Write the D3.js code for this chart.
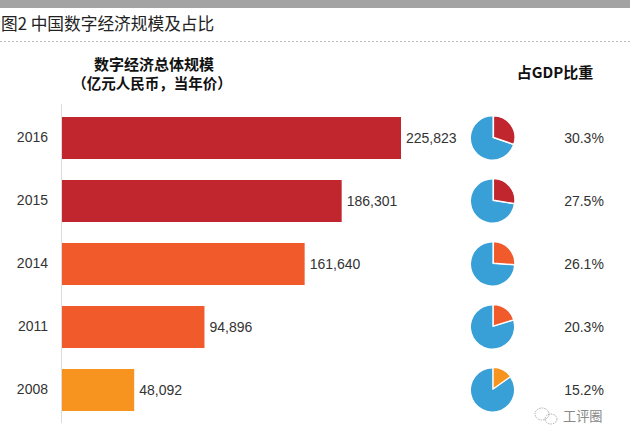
<!DOCTYPE html>
<html><head><meta charset="utf-8">
<script src="https://cdn.jsdelivr.net/npm/d3@7"></script>
<style>
html,body{margin:0;padding:0;background:#fff;}
svg{display:block;}
</style></head>
<body>
<script>
const years = ["2016","2015","2014","2011","2008"];
const values = [225823,186301,161640,94896,48092];
const shares = [30.3,27.5,26.1,20.3,15.2];
const barColors = ["#c1262e","#c1262e","#f15a2a","#f15a2a","#f7941f"];
const pieRest = "#38a0d6";
const title = "图2 中国数字经济规模及占比";
const subtitle1 = "数字经济总体规模";
const subtitle2 = "（亿元人民币，当年价）";
const shareHeader = "占GDP比重";
const watermark = "工评圈";

const W = 630, H = 441;
const cjk = "'Noto Sans CJK SC','Noto Sans',sans-serif";
const latin = "'Liberation Sans',Arial,sans-serif";

const svg = d3.select("body").append("svg").attr("width", W).attr("height", H);

// top gray band
svg.append("rect").attr("x",0).attr("y",0).attr("width",W).attr("height",8).attr("fill","#a3a3a3");
svg.append("text").attr("x",1).attr("y",30).attr("font-family",cjk).attr("font-size",16.7)
  .attr("fill","#222").text(title);
svg.append("line").attr("x1",0).attr("x2",W).attr("y1",41.5).attr("y2",41.5)
  .attr("stroke","#bdbdbd").attr("stroke-dasharray","2,2").attr("stroke-width",1);

svg.append("text").attr("x",154).attr("y",69.5).attr("text-anchor","middle")
  .attr("font-family",cjk).attr("font-weight","bold").attr("font-size",15).attr("fill","#111").text(subtitle1);
svg.append("text").attr("x",152).attr("y",88.5).attr("text-anchor","middle")
  .attr("font-family",cjk).attr("font-weight","bold").attr("font-size",14.5).attr("fill","#111").text(subtitle2);
svg.append("text").attr("x",555).attr("y",78).attr("text-anchor","middle")
  .attr("font-family",cjk).attr("font-weight","bold").attr("font-size",15).attr("fill","#111").text(shareHeader);

const x = d3.scaleLinear().domain([0, 225823]).range([62, 401]);
const y = d3.scaleBand().domain(years).range([106.5, 421.5]).paddingInner(1/3).paddingOuter(1/6);

// vertical axis line
svg.append("line").attr("x1",61.5).attr("x2",61.5).attr("y1",104).attr("y2",423)
  .attr("stroke","#dcdcdc").attr("stroke-width",1);

const data = years.map((yr,i)=>({year:yr, value:values[i], share:shares[i], color:barColors[i]}));

// year labels via axis
const yAxis = d3.axisLeft(y).tickSize(0).tickPadding(0);
const ag = svg.append("g").attr("transform","translate(48,0)").call(yAxis);
ag.select(".domain").remove();
ag.selectAll("text").attr("font-family",latin).attr("font-size",14).attr("fill","#333");

svg.selectAll("rect.bar").data(data).join("rect").attr("class","bar")
  .attr("x",x(0)).attr("y",d=>y(d.year)).attr("width",d=>x(d.value)-x(0))
  .attr("height",y.bandwidth()).attr("fill",d=>d.color);

const fmt = d3.format(",");
svg.selectAll("text.val").data(data).join("text").attr("class","val")
  .attr("x",d=>x(d.value)+5).attr("y",d=>y(d.year)+y.bandwidth()/2).attr("dy","0.36em")
  .attr("font-family",latin).attr("font-size",14).attr("fill","#333").text(d=>fmt(d.value));

// pies
const pie = d3.pie().sort(null).value(d=>d);
const arc = d3.arc().innerRadius(0).outerRadius(21.5);
const pg = svg.selectAll("g.pie").data(data).join("g").attr("class","pie")
  .attr("transform",d=>`translate(492.5,${y(d.year)+y.bandwidth()/2})`);
pg.each(function(d){
  const g = d3.select(this);
  const arcs = pie([d.share, 100-d.share]);
  g.append("path").attr("d",arc(arcs[1])).attr("fill",pieRest);
  const c = arc.centroid(arcs[0]);
  const len = Math.hypot(c[0],c[1]);
  const off = 1.2;
  g.append("path").attr("d",arc(arcs[0]))
    .attr("transform",`translate(${c[0]/len*off},${c[1]/len*off})`)
    .attr("fill",d.color).attr("stroke","#fff").attr("stroke-width",1.3).attr("stroke-linejoin","round");
});

svg.selectAll("text.pct").data(data).join("text").attr("class","pct")
  .attr("x",584).attr("y",d=>y(d.year)+y.bandwidth()/2).attr("dy","0.36em").attr("text-anchor","middle")
  .attr("font-family",latin).attr("font-size",14).attr("fill","#333").text(d=>d.share.toFixed(1)+"%");

// watermark
const wm = svg.append("g").attr("transform","translate(545,416)").attr("fill","none").attr("stroke","#999").attr("stroke-width",0.8).attr("stroke-dasharray","1.5,1");
wm.append("ellipse").attr("cx",-3).attr("cy",-2).attr("rx",7).attr("ry",6);
wm.append("ellipse").attr("cx",6).attr("cy",3).attr("rx",6).attr("ry",5);
svg.append("text").attr("x",563).attr("y",421).attr("font-family",cjk).attr("font-size",13.2)
  .attr("fill","#888").text(watermark);
</script>
</body></html>
